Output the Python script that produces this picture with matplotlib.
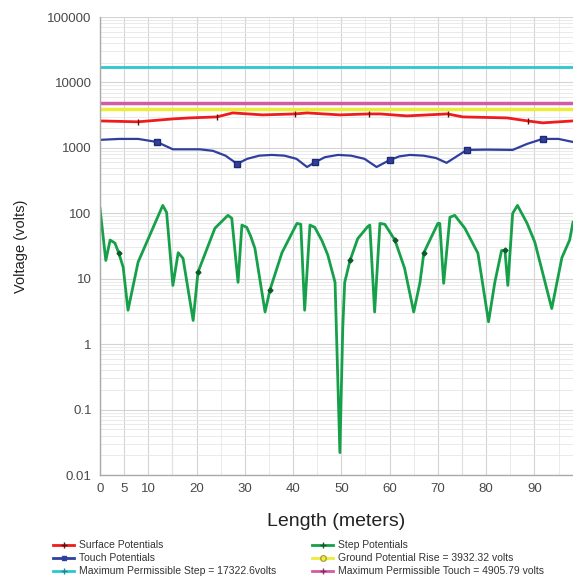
import matplotlib
matplotlib.use('Agg')
import matplotlib.pyplot as plt
from matplotlib.lines import Line2D
from matplotlib.ticker import LogLocator, NullFormatter, FixedLocator, MultipleLocator

plt.rcParams['font.family'] = ['Liberation Sans', 'DejaVu Sans']

# Surface potentials (volts)
surface_x = [0, 7.9, 15.1, 18.6, 24.2, 27.5, 33.7, 40.4, 42.9, 49.7, 55.7, 58.0, 63.6, 72.0, 75.2, 84.3, 88.6, 91.7, 98.0]
surface_v = [2580, 2500, 2770, 2870, 2970, 3420, 3190, 3300, 3420, 3190, 3300, 3300, 3080, 3300, 2970, 2870, 2580, 2410, 2580]
surface_marks = [1, 4, 7, 10, 13, 16]

# Touch potentials (volts)
touch_x = [0, 4.0, 7.9, 11.8, 15.1, 20.7, 23.4, 26.0, 28.4, 30.5, 33.0, 35.6, 38.2, 40.7, 42.9, 44.5,
           46.6, 49.3, 52.0, 54.8, 57.3, 60.0, 62.0, 64.2, 67.0, 69.6, 71.8, 76.0, 80.0, 85.5, 88.5, 91.7, 95.0, 98.0]
touch_v = [1325, 1370, 1370, 1230, 950, 950, 900, 760, 570, 680, 760, 780, 760, 680, 510, 600,
           720, 780, 760, 680, 510, 650, 740, 780, 760, 700, 590, 930, 940, 930, 1150, 1370, 1370, 1230]
touch_marks = [3, 8, 15, 21, 27, 31]

# Step potentials (volts)
step_x = [0, 1.2, 2.1, 3.1, 3.9, 4.8, 5.8, 7.9, 10.3, 13.0, 13.8, 15.1, 16.2, 17.2, 19.3, 20.3, 23.8,
          26.5, 27.3, 28.6, 29.4, 30.4, 31.2, 32.1, 34.2, 35.2, 37.7, 40.8, 41.6, 42.4, 43.5, 44.5, 46.0,
          47.2, 48.7, 49.7, 50.3, 50.7, 51.8, 53.4, 55.5, 55.9, 56.9, 58.0, 59.0, 61.1, 63.1, 65.0, 66.3,
          67.1, 70.0, 70.4, 71.2, 72.5, 73.5, 75.6, 78.3, 80.5, 81.8, 83.2, 83.9, 84.5, 85.5, 86.5, 88.5,
          90.1, 93.6, 95.7, 97.3, 98.0]
step_v = [119, 19, 39, 35, 24.5, 15, 3.3, 18, 46, 132, 103, 7.9, 25, 20.5, 2.3, 12.6, 59,
          93, 84, 8.8, 66, 61, 45, 29, 3.1, 6.7, 25, 70, 68, 3.3, 66, 61, 38,
          23, 8.8, 0.022, 1.8, 8.8, 19, 41, 63, 66, 3.1, 70, 68, 39, 14.5, 3.1, 8.8,
          25, 70, 70, 8.5, 87, 93, 59, 24.5, 2.2, 8.8, 27, 27, 7.9, 100, 132, 70,
          36, 3.5, 21, 39, 73]
step_marks = [4, 15, 25, 38, 45, 49, 60]

# Limits (volts)
max_step = 17322.6
max_touch = 4905.79
gpr = 3932.32

x_ticks = [0, 5, 10, 20, 30, 40, 50, 60, 70, 80, 90]

fig = plt.figure(figsize=(5.73, 5.83), dpi=100)
ax = fig.add_axes([100 / 573, 108 / 583, 473 / 573, 458 / 583])

ax.set_yscale('log')
ax.set_ylim(0.01, 100000)
ax.set_xlim(0, 98)

# grid
ax.yaxis.set_major_locator(LogLocator(base=10, numticks=10))
ax.yaxis.set_minor_locator(LogLocator(base=10, subs=range(2, 10), numticks=20))
ax.yaxis.set_minor_formatter(NullFormatter())
ax.xaxis.set_major_locator(FixedLocator(x_ticks))
ax.xaxis.set_minor_locator(MultipleLocator(5))
ax.grid(True, which='major', color='#d4d4d4', lw=0.8)
ax.grid(True, which='minor', color='#e6e6e6', lw=0.6)
for xv in [15, 75]:
    ax.axvline(xv, color='#c8c8c8', lw=0.8, zorder=0.5)

ax.set_xticks(x_ticks)
ax.set_xticklabels([str(t) for t in x_ticks])
ax.set_yticks([0.01, 0.1, 1, 10, 100, 1000, 10000, 100000])
ax.set_yticklabels(['0.01', '0.1', '1', '10', '100', '1000', '10000', '100000'])
ax.tick_params(axis='both', which='both', length=0, colors='#4a4a4a', labelsize=9.5, pad=6)

for side in ['top', 'right']:
    ax.spines[side].set_visible(False)
for side in ['left', 'bottom']:
    ax.spines[side].set_color('#aaaaaa')
    ax.spines[side].set_linewidth(1)

# limit lines
ax.axhline(max_step, color='#2cc6cf', lw=2)
ax.axhline(max_touch, color='#d35aa6', lw=2.5)
ax.axhline(gpr, color='#ecec3a', lw=2.5)

# curves
ax.plot(surface_x, surface_v, color='#ee1c1c', lw=2, marker='|', ms=5, mec='#5a1010',
        markevery=surface_marks)
ax.plot(touch_x, touch_v, color='#2f3f9e', lw=1.6, marker='s', ms=4, mfc='#2f3f9e',
        mec='#1f2a70', markevery=touch_marks)
ax.plot(step_x, step_v, color='#16a04a', lw=2, marker='D', ms=2.5, mfc='#0d5a2a',
        mec='#0d5a2a', markevery=step_marks)

ax.set_ylabel('Voltage (volts)', fontsize=10.5, color='#222222', labelpad=14)
ax.set_xlabel('Length (meters)', fontsize=14, color='#222222', labelpad=13)

# legend
left_handles = [
    Line2D([], [], color='#ee1c1c', lw=2, marker='+', ms=5, mec='#5a1010'),
    Line2D([], [], color='#2f3f9e', lw=2, marker='s', ms=3.5),
    Line2D([], [], color='#2cc6cf', lw=2, marker='+', ms=5, mec='#1a8a90'),
]
left_labels = ['Surface Potentials', 'Touch Potentials', 'Maximum Permissible Step = 17322.6volts']
right_handles = [
    Line2D([], [], color='#16a04a', lw=2, marker='+', ms=5, mec='#0d5a2a'),
    Line2D([], [], color='#ecec3a', lw=2, marker='o', ms=4, mfc='none', mec='#b0a020'),
    Line2D([], [], color='#d35aa6', lw=2, marker='+', ms=5, mec='#8a2a6a'),
]
right_labels = ['Step Potentials', 'Ground Potential Rise = 3932.32 volts',
                'Maximum Permissible Touch = 4905.79 volts']

leg_kw = dict(frameon=False, fontsize=7.5, handlelength=2.0, handletextpad=0.5,
              labelspacing=0.3, borderpad=0, labelcolor='#333333')
fig.legend(left_handles, left_labels, loc='upper left',
           bbox_to_anchor=(48 / 573, 1 - 535 / 583), **leg_kw)
fig.legend(right_handles, right_labels, loc='upper left',
           bbox_to_anchor=(307 / 573, 1 - 535 / 583), **leg_kw)

fig.savefig('out.png', dpi=100, facecolor='white')
